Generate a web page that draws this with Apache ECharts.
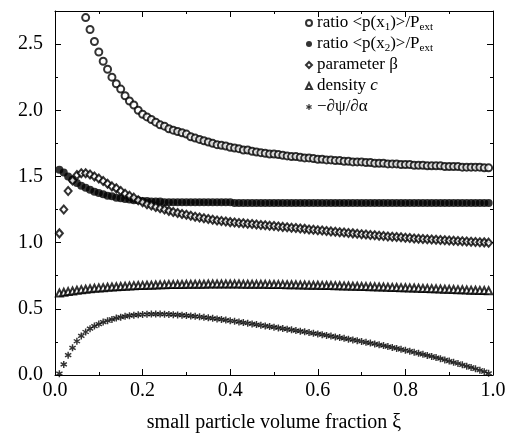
<!DOCTYPE html>
<html>
<head>
<meta charset="utf-8">
<script src="https://cdn.jsdelivr.net/npm/echarts@6/dist/echarts.min.js"></script>
<style>
    html, body { margin: 0; padding: 0; background: #fff; }
    #container { width: 514px; height: 438px; }
</style>
</head>
<body>
<div id="container"></div>
<script>
    // small particle volume fraction xi (grid of the computation)
    var xi = [0.01,0.02,0.03,0.04,0.05,0.06,0.07,0.08,0.09,0.10,
        0.11,0.12,0.13,0.14,0.15,0.16,0.17,0.18,0.19,0.20,
        0.21,0.22,0.23,0.24,0.25,0.26,0.27,0.28,0.29,0.30,
        0.31,0.32,0.33,0.34,0.35,0.36,0.37,0.38,0.39,0.40,
        0.41,0.42,0.43,0.44,0.45,0.46,0.47,0.48,0.49,0.50,
        0.51,0.52,0.53,0.54,0.55,0.56,0.57,0.58,0.59,0.60,
        0.61,0.62,0.63,0.64,0.65,0.66,0.67,0.68,0.69,0.70,
        0.71,0.72,0.73,0.74,0.75,0.76,0.77,0.78,0.79,0.80,
        0.81,0.82,0.83,0.84,0.85,0.86,0.87,0.88,0.89,0.90,
        0.91,0.92,0.93,0.94,0.95,0.96,0.97,0.98,0.99];

    // ratio <p(x1)>/Pext, starts at xi = 0.07
    var ratio1 = [2.70,2.61,2.52,2.44,
        2.37,2.31,2.25,2.20,2.16,2.11,2.07,2.04,2.00,1.97,
        1.95,1.93,1.91,1.89,1.88,1.86,1.85,1.84,1.83,1.82,
        1.80,1.79,1.78,1.77,1.76,1.75,1.74,1.735,1.73,1.72,
        1.715,1.71,1.70,1.70,1.69,1.685,1.68,1.675,1.67,1.67,
        1.665,1.66,1.655,1.65,1.65,1.645,1.64,1.64,1.635,1.63,
        1.63,1.625,1.625,1.62,1.62,1.615,1.615,1.61,1.61,1.61,
        1.605,1.605,1.60,1.60,1.60,1.595,1.595,1.595,1.59,1.59,
        1.59,1.585,1.585,1.585,1.58,1.58,1.58,1.58,1.575,1.575,
        1.575,1.575,1.57,1.57,1.57,1.57,1.57,1.565,1.565];

    // ratio <p(x2)>/Pext
    var ratio2 = [1.55,1.53,1.50,1.475,1.45,1.43,1.415,1.40,1.385,1.375,
        1.365,1.355,1.35,1.34,1.335,1.33,1.325,1.32,1.32,1.315,
        1.315,1.31,1.31,1.31,1.305,1.305,1.305,1.305,1.305,1.305,
        1.305,1.305,1.305,1.305,1.305,1.305,1.305,1.305,1.305,1.305,
        1.30,1.30,1.30,1.30,1.30,1.30,1.30,1.30,1.30,1.30,
        1.30,1.30,1.30,1.30,1.30,1.30,1.30,1.30,1.30,1.30,
        1.30,1.30,1.30,1.30,1.30,1.30,1.30,1.30,1.30,1.30,
        1.30,1.30,1.30,1.30,1.30,1.30,1.30,1.30,1.30,1.30,
        1.30,1.30,1.30,1.30,1.30,1.30,1.30,1.30,1.30,1.30,
        1.30,1.30,1.30,1.30,1.30,1.30,1.30,1.30,1.30];

    // parameter beta
    var beta = [1.07,1.25,1.39,1.47,1.51,1.525,1.525,1.515,1.50,1.485,
        1.465,1.445,1.425,1.41,1.39,1.37,1.355,1.34,1.32,1.305,
        1.29,1.28,1.27,1.26,1.25,1.24,1.232,1.224,1.217,1.21,
        1.203,1.196,1.19,1.184,1.178,1.173,1.168,1.163,1.159,1.155,
        1.152,1.149,1.146,1.143,1.14,1.137,1.134,1.131,1.128,1.125,
        1.122,1.119,1.116,1.113,1.11,1.107,1.104,1.10,1.097,1.094,
        1.091,1.088,1.085,1.082,1.079,1.076,1.073,1.07,1.067,1.064,
        1.061,1.058,1.055,1.052,1.05,1.047,1.045,1.042,1.04,1.037,
        1.035,1.032,1.03,1.028,1.026,1.024,1.022,1.02,1.018,1.016,
        1.014,1.012,1.01,1.008,1.006,1.005,1.003,1.002,1.00];

    // density c
    var density = [0.62,0.625,0.63,0.635,0.64,0.645,0.648,0.652,0.655,0.658,
        0.66,0.663,0.665,0.667,0.669,0.671,0.673,0.675,0.676,0.677,
        0.678,0.679,0.68,0.681,0.682,0.683,0.683,0.684,0.684,0.685,
        0.685,0.686,0.686,0.686,0.687,0.687,0.687,0.687,0.687,0.687,
        0.687,0.687,0.686,0.686,0.686,0.685,0.685,0.685,0.684,0.684,
        0.683,0.683,0.682,0.682,0.681,0.68,0.68,0.679,0.678,0.678,
        0.677,0.676,0.676,0.675,0.674,0.673,0.672,0.671,0.67,0.669,
        0.668,0.667,0.666,0.665,0.664,0.663,0.662,0.661,0.66,0.659,
        0.658,0.657,0.656,0.654,0.653,0.652,0.651,0.65,0.648,0.647,
        0.646,0.645,0.644,0.642,0.641,0.64,0.639,0.638,0.636];

    // -dpsi/dalpha
    var dpsi = [0.01,0.08,0.15,0.205,0.255,0.295,0.325,0.35,0.37,0.385,
        0.40,0.41,0.42,0.43,0.437,0.443,0.448,0.452,0.455,0.457,
        0.459,0.46,0.46,0.46,0.459,0.458,0.456,0.454,0.452,0.449,
        0.446,0.443,0.44,0.436,0.432,0.428,0.424,0.42,0.415,0.41,
        0.406,0.401,0.396,0.391,0.386,0.381,0.376,0.371,0.366,0.361,
        0.356,0.351,0.346,0.341,0.336,0.331,0.326,0.321,0.315,0.31,
        0.305,0.299,0.294,0.288,0.283,0.277,0.271,0.265,0.259,0.253,
        0.247,0.241,0.235,0.228,0.222,0.215,0.208,0.201,0.194,0.187,
        0.18,0.172,0.164,0.156,0.148,0.14,0.132,0.123,0.114,0.105,
        0.096,0.087,0.077,0.067,0.057,0.047,0.036,0.025,0.013];

    var names = ['ratio1', 'ratio2', 'beta', 'density', 'dpsi'];
    var labels = {
        ratio1: 'ratio <p(x{s|1})>/P{s|ext}',
        ratio2: 'ratio <p(x{s|2})>/P{s|ext}',
        beta: 'parameter β',
        density: 'density {i|c}',
        dpsi: '−∂ψ/∂α'
    };

    // asterisk marker: three crossing bars
    var starPath = 'path://M-0.2,-1L0.2,-1L0.2,1L-0.2,1Z' +
        'M0.766,-0.673L0.966,-0.327L-0.766,0.673L-0.966,0.327Z' +
        'M-0.966,-0.327L-0.766,-0.673L0.966,0.327L0.766,0.673Z';

    function pairs(xs, ys) {
        return ys.map(function (v, i) { return [xs[i], v]; });
    }

    var font = 'Liberation Serif';

    var chart = echarts.init(document.getElementById('container'));
    chart.setOption({
        animation: false,
        backgroundColor: '#fff',
        grid: {left: 55, right: 21, top: 11, bottom: 61},
        legend: {
            orient: 'vertical',
            left: 300,
            top: 8,
            itemWidth: 6,
            itemHeight: 6,
            itemGap: 1,
            data: names,
            formatter: function (n) { return labels[n]; },
            textStyle: {
                fontFamily: font, fontSize: 17, color: '#000', lineHeight: 20,
                rich: {
                    s: {fontFamily: font, fontSize: 11, lineHeight: 11, verticalAlign: 'bottom', color: '#000'},
                    i: {fontFamily: font, fontSize: 17, fontStyle: 'italic', color: '#000'}
                }
            }
        },
        xAxis: [{
            type: 'value', min: 0, max: 1, interval: 0.2,
            name: 'small particle volume fraction ξ',
            nameLocation: 'middle', nameGap: 38,
            nameTextStyle: {fontFamily: font, fontSize: 20, color: '#000'},
            axisLine: {onZero: false, lineStyle: {color: '#000', width: 1}},
            axisTick: {inside: true, length: 6, lineStyle: {color: '#000'}},
            minorTick: {show: true, splitNumber: 2, length: 3, lineStyle: {color: '#000'}},
            axisLabel: {fontFamily: font, fontSize: 20, color: '#000', margin: 6,
                formatter: function (v) { return v.toFixed(1); }},
            splitLine: {show: false}
        }, {
            type: 'value', min: 0, max: 1, interval: 0.2, position: 'top',
            axisLine: {onZero: false, lineStyle: {color: '#000', width: 1}},
            axisTick: {inside: true, length: 6, lineStyle: {color: '#000'}},
            minorTick: {show: true, splitNumber: 2, length: 3, lineStyle: {color: '#000'}},
            axisLabel: {show: false},
            splitLine: {show: false}
        }],
        yAxis: [{
            type: 'value', min: 0, max: 2.75, interval: 0.5,
            axisLine: {onZero: false, lineStyle: {color: '#000', width: 1}},
            axisTick: {inside: true, length: 6, lineStyle: {color: '#000'}},
            minorTick: {show: true, splitNumber: 2, length: 3, lineStyle: {color: '#000'}},
            axisLabel: {fontFamily: font, fontSize: 20, color: '#000', margin: 12,
                showMaxLabel: false,
                formatter: function (v) { return v.toFixed(1); }},
            splitLine: {show: false}
        }, {
            type: 'value', min: 0, max: 2.75, interval: 0.5, position: 'right',
            axisLine: {onZero: false, lineStyle: {color: '#000', width: 1}},
            axisTick: {inside: true, length: 6, lineStyle: {color: '#000'}},
            minorTick: {show: true, splitNumber: 2, length: 3, lineStyle: {color: '#000'}},
            axisLabel: {show: false},
            splitLine: {show: false}
        }],
        series: [{
            name: 'ratio1', type: 'scatter', symbol: 'emptyCircle', symbolSize: 7,
            itemStyle: {color: '#000', borderWidth: 1},
            data: pairs(xi.slice(6), ratio1)
        }, {
            name: 'ratio2', type: 'scatter', symbol: 'circle', symbolSize: 8,
            itemStyle: {color: '#000'},
            data: pairs(xi, ratio2)
        }, {
            name: 'beta', type: 'scatter', symbol: 'emptyDiamond', symbolSize: [7, 8],
            itemStyle: {color: '#000', borderWidth: 1},
            data: pairs(xi, beta)
        }, {
            name: 'density', type: 'scatter', symbol: 'emptyTriangle', symbolSize: 7,
            itemStyle: {color: '#000', borderWidth: 1},
            data: pairs(xi, density)
        }, {
            name: 'dpsi', type: 'scatter', symbol: starPath, symbolSize: 7,
            itemStyle: {color: '#000'},
            data: pairs(xi, dpsi)
        }]
    });
</script>
</body>
</html>
